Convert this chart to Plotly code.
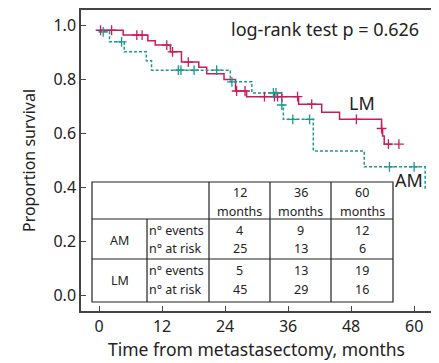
import plotly.graph_objects as go

# ---------------- data ----------------
lm_time = [0, 4.6, 9.3, 10.7, 13.6, 15.7, 19.0, 20.5, 23.8, 26.0, 28.1, 38.0, 42.4, 45.8, 53.8, 54.0, 54.3, 55.8]
lm_surv = [0.981, 0.963, 0.942, 0.926, 0.901, 0.863, 0.844, 0.820, 0.799, 0.756, 0.735, 0.707, 0.677, 0.651, 0.617, 0.589, 0.559, 0.559]
lm_cens_time = [0.3, 2.4, 7.2, 8.2, 12.9, 14.0, 17.0, 26.2, 27.8, 31.5, 33.4, 34.0, 34.8, 37.8, 40.5, 49.0, 53.8, 55.1, 57.1]
lm_cens_surv = [0.981, 0.981, 0.963, 0.963, 0.926, 0.901, 0.863, 0.756, 0.756, 0.735, 0.735, 0.735, 0.735, 0.735, 0.707, 0.651, 0.617, 0.559, 0.559]

am_time = [0, 2.0, 4.8, 9.0, 10.0, 25.0, 29.1, 34.8, 35.1, 40.8, 50.5, 62.1]
am_surv = [0.975, 0.938, 0.901, 0.868, 0.833, 0.790, 0.749, 0.704, 0.651, 0.534, 0.475, 0.389]
am_cens_time = [0.8, 4.3, 15.1, 15.6, 18.1, 22.4, 25.3, 33.2, 33.7, 34.8, 36.9, 40.1, 55.3, 60.0]
am_cens_surv = [0.975, 0.938, 0.833, 0.833, 0.833, 0.833, 0.790, 0.749, 0.749, 0.704, 0.651, 0.651, 0.475, 0.475]

x_ticks = [0, 12, 24, 36, 48, 60]
y_ticks = [0.0, 0.2, 0.4, 0.6, 0.8, 1.0]

table_months = ["12", "36", "60"]
am_events = [4, 9, 12]
am_risk = [25, 13, 6]
lm_events = [5, 13, 19]
lm_risk = [45, 29, 16]

pvalue_text = "log-rank test p = 0.626"

# ---------------- style ----------------
LM_COL = "#c81d5c"
AM_COL = "#1b9a8b"
FRAME = "#444444"
FONT = "Noto Sans"

OFF = 8  # page body margin
W, H = 439 - OFF, 363 - OFF
L, R, T, B = 81 - OFF, 7, 10 - OFF, 52
PW, PH = W - L - R, H - T - B


def px(x):
    return (x - OFF - L) / PW


def py(y):
    return (H - B - (y - OFF)) / PH


fig = go.Figure()
fig.add_trace(go.Scatter(x=lm_time, y=lm_surv, mode="lines", line=dict(color=LM_COL, width=1.5, shape="hv"),
                         showlegend=False, hoverinfo="skip"))
fig.add_trace(go.Scatter(x=am_time, y=am_surv, mode="lines",
                         line=dict(color=AM_COL, width=1.5, shape="hv", dash="3px,2px"),
                         showlegend=False, hoverinfo="skip"))
fig.add_trace(go.Scatter(x=lm_cens_time, y=lm_cens_surv, mode="markers",
                         marker=dict(symbol="cross-thin", size=7, line=dict(color=LM_COL, width=1.3)),
                         showlegend=False, hoverinfo="skip"))
fig.add_trace(go.Scatter(x=am_cens_time, y=am_cens_surv, mode="markers",
                         marker=dict(symbol="cross-thin", size=7, line=dict(color=AM_COL, width=1.3)),
                         showlegend=False, hoverinfo="skip"))

shapes = []
annotations = []

# table geometry (pixels)
tx = [92, 147, 209, 270, 331, 393]
ty = [182, 219, 259, 302]
shapes.append(dict(type="rect", xref="paper", yref="paper", x0=px(tx[0]), x1=px(tx[-1]), y0=py(ty[-1]), y1=py(ty[0]),
                   line=dict(color="#222222", width=1.2), fillcolor="white", layer="above"))
for yy in ty[1:3]:
    shapes.append(dict(type="line", xref="paper", yref="paper", x0=px(tx[0]), x1=px(tx[-1]), y0=py(yy), y1=py(yy),
                       line=dict(color="#222222", width=1.2), layer="above"))
for xx in tx[2:5]:
    shapes.append(dict(type="line", xref="paper", yref="paper", x0=px(xx), x1=px(xx), y0=py(ty[-1]), y1=py(ty[0]),
                       line=dict(color="#222222", width=1.2), layer="above"))
shapes.append(dict(type="line", xref="paper", yref="paper", x0=px(tx[1]), x1=px(tx[1]), y0=py(ty[-1]), y1=py(ty[1]),
                   line=dict(color="#222222", width=1.2), layer="above"))

TF = dict(family=FONT, size=12.5, color="#222222")


def txt(x, y, s, anchor="center", font=TF):
    annotations.append(dict(xref="paper", yref="paper", x=px(x), y=py(y), text=s, showarrow=False,
                            xanchor=anchor, yanchor="middle", font=font, borderpad=0, borderwidth=0))


for i, m in enumerate(table_months):
    cx = (tx[2 + i] + tx[3 + i]) / 2
    txt(cx, 192, m)
    txt(cx, 211, "months")
    txt(cx, 230, str(am_events[i]))
    txt(cx, 248, str(am_risk[i]))
    txt(cx, 270, str(lm_events[i]))
    txt(cx, 289, str(lm_risk[i]))

txt((tx[0] + tx[1]) / 2, 240, "AM")
txt((tx[0] + tx[1]) / 2, 280, "LM")
for yy, s in [(230, "n° events"), (248, "n° at risk"), (270, "n° events"), (289, "n° at risk")]:
    txt(tx[1] + 2, yy, s, anchor="left")

txt(231, 29, pvalue_text, anchor="left", font=dict(family=FONT, size=18, color="#222222"))
txt(361.5, 103, "LM", font=dict(family=FONT, size=18, color="#222222"))
txt(409, 180, "AM", font=dict(family=FONT, size=18, color="#222222"))

fig.update_layout(
    width=W, height=H,
    margin=dict(l=L, r=R, t=T, b=B, autoexpand=False),
    paper_bgcolor="white", plot_bgcolor="white",
    font=dict(family=FONT, size=16, color="#222222"),
    shapes=shapes, annotations=annotations,
    xaxis=dict(range=[-3.43, 63.4], tickvals=x_ticks, ticktext=[str(v) for v in x_ticks],
               ticks="inside", ticklen=5, tickcolor=FRAME, showline=True, linecolor=FRAME, linewidth=1.5,
               mirror=True, showgrid=False, zeroline=False, automargin=False,
               title=dict(text="Time from metastasectomy, months", font=dict(size=17.5), standoff=6),
               tickfont=dict(size=16)),
    yaxis=dict(range=[-0.059, 1.056], tickvals=y_ticks, ticktext=[f"{v:.1f}" for v in y_ticks],
               ticks="inside", ticklen=5, tickcolor=FRAME, showline=True, linecolor=FRAME, linewidth=1.5,
               mirror=True, showgrid=False, zeroline=False, automargin=False,
               title=dict(text="Proportion survival", font=dict(size=16), standoff=14),
               tickfont=dict(size=16)),
)

fig.write_html("out.html")
